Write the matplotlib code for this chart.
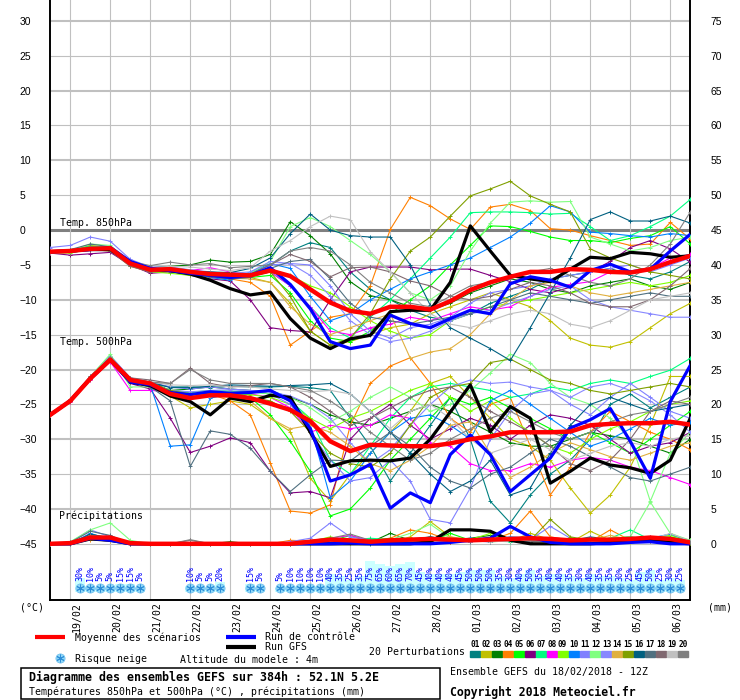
import matplotlib
matplotlib.use("Agg")
import matplotlib.pyplot as plt
from matplotlib.patches import Rectangle

# time axis: 18/02 12Z + 0..384h, members every 12h
hours = list(range(0, 385, 12))

dates = ["19/02", "20/02", "21/02", "22/02", "23/02", "24/02", "25/02", "26/02",
         "27/02", "28/02", "01/03", "02/03", "03/03", "04/03", "05/03", "06/03"]

pert_colors = ["#008080", "#c0c000", "#008000", "#ff8000", "#00ff00", "#800080", "#00ff80",
               "#ff00ff", "#80ff00", "#0080ff", "#8080ff", "#80ff80", "#8888ff", "#e0b040",
               "#80a000", "#006080", "#507080", "#806870", "#c0c0c0", "#808080"]

# 850 hPa (degC)
t850_mean = [-3.1, -3.0, -2.7, -2.6, -4.8, -5.7, -5.6, -6.0, -6.3, -6.4, -6.5, -5.8, -6.6,
             -8.5, -10.4, -11.6, -12.0, -11.0, -11.0, -11.4, -10.2, -8.6, -7.5, -6.7, -6.0,
             -6.0, -5.6, -5.7, -6.0, -6.1, -5.6, -4.6, -3.7]
t850_ctrl = [-3.1, -3.0, -2.8, -2.5, -4.5, -5.5, -5.8, -6.2, -6.5, -6.8, -6.5, -5.4, -7.8,
             -11.3, -16.0, -17.0, -16.5, -12.2, -13.4, -14.0, -12.7, -11.5, -12.0, -7.7, -6.7,
             -7.2, -8.2, -5.8, -4.9, -6.0, -5.6, -3.0, -0.6]
t850_gfs = [-3.1, -3.0, -2.8, -2.8, -4.6, -5.6, -5.8, -6.3, -7.2, -8.4, -9.3, -8.9, -12.7,
            -15.5, -17.0, -15.6, -15.1, -11.7, -11.5, -11.5, -7.5, 0.6, -3.0, -6.5, -7.0,
            -7.4, -5.6, -3.9, -4.1, -3.2, -3.4, -3.9, -3.7]
t850_pert = [
    [-3.2, -3.1, -2.5, -2.9, -5.0, -5.9, -5.4, -6.2, -6.5, -6.8, -6.2, -5.0, -3.0, -1.8, -2.5, -6.0, -8.5, -10.0, -11.5, -12.5, -13.0, -12.0, -10.5, -9.5, -8.5, -7.0, -6.5, -6.0, -5.5, -6.5, -7.0, -6.0, -4.5],
    [-3.0, -2.9, -2.2, -2.5, -4.6, -5.5, -5.5, -5.8, -6.2, -6.5, -6.8, -7.5, -10.5, -14.5, -16.5, -16.0, -15.0, -14.0, -13.5, -12.0, -11.0, -10.0, -9.0, -10.0, -11.0, -13.0, -15.5, -16.5, -16.8, -16.0, -14.0, -12.0, -10.5],
    [-3.1, -2.8, -2.4, -2.6, -4.5, -5.4, -5.2, -5.0, -4.3, -4.6, -4.5, -3.5, 1.2, -0.8, -3.4, -7.4, -9.4, -10.0, -11.0, -11.5, -10.5, -9.0, -8.0, -7.0, -7.5, -8.5, -9.0, -8.0, -7.5, -7.0, -8.0, -8.5, -7.5],
    [-3.3, -3.2, -2.8, -3.0, -5.2, -6.0, -5.8, -6.3, -6.8, -7.0, -7.5, -9.5, -16.5, -14.5, -12.5, -12.0, -8.0, 0.1, 4.7, 3.5, 1.6, 0.1, 3.3, 3.7, 2.8, 0.2, 0.0, -0.8, -1.5, -2.2, -2.0, 1.1, -1.3],
    [-3.1, -3.0, -2.6, -2.4, -4.4, -5.5, -5.7, -6.0, -6.4, -6.6, -6.8, -6.5, -9.0, -13.0, -15.5, -16.0, -14.5, -12.0, -10.0, -8.0, -5.0, -2.2, 0.6, 0.5, -0.2, -1.0, -1.5, -1.5, -1.8, -1.2, -0.8, 0.5, -2.0],
    [-3.3, -3.6, -3.4, -3.2, -5.0, -6.2, -6.0, -6.5, -7.0, -7.3, -10.0, -14.0, -14.4, -14.6, -10.0, -6.0, -5.3, -5.3, -5.3, -5.7, -5.6, -5.6, -6.5, -7.4, -8.5, -9.0, -8.2, -6.0, -4.5, -2.5, -1.5, -2.7, -4.6],
    [-3.0, -2.9, -2.3, -2.5, -4.7, -5.6, -5.5, -5.9, -6.3, -6.6, -6.7, -6.0, -8.0, -11.0, -14.0, -15.5, -12.5, -10.0, -7.0, -4.0, -1.0, 2.5, 2.6, 2.6, 2.5, 2.3, 2.4, 0.5, -1.5, -0.8, 0.5, 2.0, 4.4],
    [-3.3, -3.1, -2.7, -2.9, -5.0, -5.8, -5.6, -5.8, -5.4, -6.0, -6.5, -6.0, -8.0, -11.0, -14.5, -15.0, -14.0, -13.5, -12.5, -13.0, -12.0, -11.0, -11.5, -11.0, -9.5, -8.2, -7.8, -7.4, -6.0, -6.0, -5.5, -4.0, -3.5],
    [-3.2, -3.3, -2.7, -2.8, -5.1, -6.0, -6.2, -6.5, -6.7, -6.8, -6.4, -5.6, -6.5, -8.0, -9.0, -11.0, -13.0, -14.5, -15.5, -15.0, -13.0, -12.0, -11.0, -10.5, -10.0, -9.5, -9.0, -8.5, -8.0, -7.5, -8.0, -7.5, -6.5],
    [-3.2, -3.0, -2.6, -2.7, -5.0, -5.9, -5.8, -6.1, -6.8, -7.2, -6.0, -4.8, -5.5, -9.5, -13.0, -12.0, -10.0, -8.5, -7.0, -6.0, -5.0, -4.0, -2.5, -1.0, 1.0, 3.5, 2.6, -0.3, -0.5, -0.8, -1.0, -0.5, -0.8],
    [-2.5, -2.2, -1.0, -1.6, -4.2, -5.3, -5.3, -5.7, -6.0, -6.3, -6.3, -5.0, -4.8, -5.0, -8.0, -12.0, -14.5, -15.5, -14.0, -13.5, -12.5, -10.5, -9.0, -8.5, -8.0, -7.0, -6.5, -6.0, -5.5, -5.0, -6.0, -5.0, -4.0],
    [-3.0, -3.0, -2.0, -2.2, -4.6, -5.5, -5.4, -5.8, -6.2, -6.3, -6.2, -4.5, 0.5, 1.8, 0.5, -1.5, -3.5, -6.0, -9.0, -10.0, -8.0, -3.0, 1.0, 4.0, 4.2, 4.0, 4.1, -1.0, -2.0, -3.0, -2.5, -1.5, -1.0],
    [-3.1, -3.0, -2.5, -2.6, -4.8, -5.6, -5.7, -6.1, -6.4, -6.2, -6.0, -4.5, -4.8, -6.5, -9.5, -13.0, -15.0, -16.0, -15.5, -14.5, -13.0, -12.0, -11.5, -10.5, -9.5, -8.5, -8.0, -10.0, -11.0, -11.5, -12.0, -12.5, -12.5],
    [-3.2, -3.1, -2.6, -2.6, -4.9, -5.8, -5.7, -6.2, -6.6, -6.9, -7.0, -7.5, -11.0, -13.5, -15.0, -14.0, -13.0, -12.0, -18.4, -17.5, -17.0, -15.0, -12.0, -10.0, -8.0, -7.5, -8.0, -9.0, -9.5, -9.0, -8.5, -8.0, -7.5],
    [-3.1, -2.9, -2.4, -2.6, -4.6, -5.6, -5.6, -6.0, -6.4, -6.7, -6.6, -6.0, -9.5, -14.5, -16.5, -15.5, -12.0, -7.0, -3.0, -1.0, 2.0, 4.9, 5.9, 7.0, 4.9, 3.7, 2.6, -2.7, -4.0, -5.0, -6.0, -6.5, -7.0],
    [-3.2, -3.1, -2.5, -2.8, -4.9, -5.7, -5.5, -5.9, -6.0, -6.1, -5.5, -4.0, -0.5, 2.3, 0.0, -0.8, -1.0, -1.0, -5.0, -10.8, -14.0, -15.5, -17.0, -18.7, -14.0, -9.0, -4.0, 1.5, 2.6, 1.3, 1.3, 2.0, 1.0],
    [-3.0, -2.8, -2.0, -2.4, -4.6, -5.6, -5.8, -6.2, -6.7, -7.0, -6.8, -5.5, -4.5, -4.2, -7.0, -10.5, -12.5, -13.0, -13.5, -13.0, -12.5, -12.0, -11.0, -10.0, -9.0, -9.5, -10.0, -10.5, -10.0, -9.5, -9.0, -9.5, -9.5],
    [-3.3, -3.2, -2.8, -3.0, -5.2, -6.0, -5.9, -6.3, -6.6, -6.7, -6.3, -5.0, -3.5, -4.5, -6.7, -5.4, -5.3, -6.0, -7.3, -8.0, -9.5, -10.0, -9.5, -8.5, -7.5, -8.0, -9.0, -10.5, -11.0, -11.0, -10.0, -8.0, -5.5],
    [-3.1, -3.0, -2.6, -2.7, -4.7, -5.5, -5.2, -5.3, -5.6, -5.8, -5.4, -3.0, -1.5, 0.5, 2.0, 1.5, -3.1, -6.0, -9.0, -12.0, -13.5, -14.0, -13.0, -12.0, -11.5, -12.0, -13.5, -14.0, -13.0, -11.5, -10.0, -9.5, -9.0],
    [-3.0, -2.9, -2.4, -2.6, -4.5, -5.1, -4.6, -5.0, -4.8, -5.4, -5.2, -5.0, -3.0, -2.5, -3.0, -5.0, -7.5, -9.0, -10.5, -11.0, -9.5, -8.0, -7.5, -7.0, -6.0, -5.5, -6.5, -7.5, -8.0, -7.0, -5.0, -2.0, 2.6],
]

# 500 hPa (degC)
t500_mean = [-26.5, -24.5, -21.3, -18.6, -21.5, -22.0, -23.5, -24.1, -23.7, -23.7, -24.1,
             -24.9, -25.8, -27.4, -30.3, -31.7, -30.8, -30.9, -31.0, -31.0, -30.6, -30.0,
             -29.6, -29.0, -29.0, -29.0, -28.9, -28.0, -27.8, -27.7, -27.7, -27.5, -27.9]
t500_ctrl = [-26.5, -24.5, -21.3, -18.6, -21.8, -22.2, -23.3, -23.6, -23.2, -23.4, -23.3,
             -23.0, -24.5, -28.5, -36.0, -35.1, -33.6, -39.9, -37.7, -39.1, -32.2, -29.4,
             -32.2, -37.5, -35.1, -32.7, -28.4, -27.2, -25.6, -30.3, -35.6, -24.6, -19.4]
t500_gfs = [-26.5, -24.5, -21.3, -18.6, -21.8, -22.3, -23.8, -24.6, -26.5, -24.1, -24.6,
            -23.7, -24.0, -29.0, -33.9, -33.1, -33.0, -33.1, -32.7, -30.0, -26.1, -22.2,
            -28.9, -25.3, -27.0, -36.3, -34.6, -32.7, -33.7, -34.1, -34.9, -33.0, -27.0]
t500_pert = [
    [-26.5, -24.3, -21.0, -18.3, -21.5, -22.0, -22.5, -22.5, -22.6, -22.4, -22.5, -22.5, -22.4, -22.6, -23.0, -27.0, -31.0, -36.0, -32.0, -28.0, -24.0, -30.0, -38.9, -42.0, -38.0, -35.0, -33.0, -30.0, -25.0, -23.5, -25.5, -24.0, -22.5],
    [-26.5, -24.5, -21.5, -18.8, -21.8, -22.5, -23.8, -25.5, -25.0, -24.5, -25.0, -27.0, -28.9, -35.6, -38.9, -35.0, -32.0, -29.0, -26.0, -22.0, -21.0, -24.0, -27.0, -30.0, -31.0, -33.0, -37.0, -40.6, -38.0, -34.0, -28.0, -21.0, -21.0],
    [-26.5, -24.4, -21.2, -18.5, -21.5, -21.8, -23.0, -22.8, -22.5, -22.8, -23.0, -23.5, -24.0, -25.0, -26.5, -27.5, -28.0, -27.0, -26.0, -25.0, -26.0, -27.5, -29.0, -30.5, -31.0, -31.0, -30.0, -29.0, -29.5, -30.0, -31.0, -32.0, -30.0],
    [-26.5, -24.6, -21.3, -18.5, -21.8, -22.3, -23.5, -24.0, -23.5, -24.5, -26.5, -33.4, -40.3, -40.6, -39.4, -28.0, -22.0, -19.5, -18.3, -22.0, -27.0, -29.0, -25.0, -24.0, -31.0, -38.0, -34.0, -29.0, -26.0, -27.5, -29.0, -30.0, -31.5],
    [-26.5, -24.5, -21.4, -18.7, -21.6, -22.0, -23.0, -23.3, -23.0, -23.2, -24.0, -26.5, -30.3, -34.6, -41.0, -40.0, -37.0, -33.0, -30.0, -27.0, -24.0, -25.0, -24.0, -25.5, -27.0, -28.5, -30.0, -29.0, -30.5, -32.0, -30.0, -28.0, -26.0],
    [-26.5, -24.5, -21.3, -18.7, -22.0, -22.8, -27.0, -31.9, -31.0, -29.8, -30.5, -34.6, -37.7, -37.5, -38.4, -30.0, -27.0, -25.0, -28.0, -30.0, -28.5, -27.0, -28.0, -30.0, -28.0, -26.5, -27.0, -28.0, -30.0, -32.0, -31.0, -30.5, -29.0],
    [-26.5, -24.5, -21.2, -18.5, -21.5, -22.0, -23.2, -23.5, -23.0, -23.1, -23.2, -23.5, -24.5, -27.0, -33.0, -35.0, -31.0, -27.0, -24.0, -22.5, -22.0, -22.5, -23.0, -24.0, -23.5, -22.5, -23.0, -22.0, -21.5, -22.0, -21.0, -20.1, -18.4],
    [-26.5, -24.6, -21.5, -18.9, -23.0, -23.0, -23.2, -23.6, -23.5, -23.3, -23.5, -24.0, -25.5, -29.0, -28.0, -28.5, -28.0, -26.5, -27.0, -30.5, -31.0, -33.5, -34.5, -34.5, -33.5, -34.0, -33.0, -32.6, -33.0, -34.0, -34.5, -35.5, -36.5],
    [-26.5, -24.5, -21.3, -18.6, -21.6, -22.0, -23.0, -23.5, -23.4, -23.5, -23.6, -24.0, -25.0, -27.0, -28.5, -27.0, -26.0, -24.5, -23.0, -22.0, -24.0, -26.0, -24.5, -27.0, -29.0, -31.0, -32.0, -30.0, -28.5, -27.5, -26.0, -25.0, -24.5],
    [-26.5, -24.5, -21.2, -18.5, -21.6, -22.2, -31.0, -30.8, -24.1, -23.5, -23.2, -23.0, -24.0, -28.0, -38.4, -36.0, -32.0, -29.0, -27.0, -26.5, -28.0, -30.0, -24.5, -23.0, -25.0, -27.0, -29.0, -31.0, -30.0, -28.5, -27.0, -28.0, -27.5],
    [-26.5, -24.3, -21.0, -18.0, -21.2, -21.8, -22.5, -22.8, -22.5, -22.8, -23.0, -23.5, -25.0, -29.0, -33.0, -36.0, -35.5, -33.0, -36.0, -41.5, -42.0, -37.0, -30.0, -26.0, -23.5, -23.0, -25.0, -26.5, -24.0, -22.0, -24.0, -26.0, -27.0],
    [-26.5, -24.4, -21.0, -17.8, -22.5, -22.5, -23.0, -23.5, -23.0, -23.2, -23.2, -23.5, -24.0, -25.5, -27.5, -26.0, -24.0, -22.5, -24.0, -26.0, -25.0, -23.0, -20.5, -17.8, -19.0, -22.0, -24.0, -25.0, -27.0, -30.0, -38.9, -32.0, -29.0],
    [-26.5, -24.5, -21.3, -18.6, -21.6, -22.0, -23.0, -23.2, -23.0, -22.9, -23.0, -23.2, -23.8, -25.0, -27.0, -30.5, -33.5, -31.5, -28.0, -25.0, -22.5, -21.5, -22.0, -21.8, -22.5, -23.0, -24.0, -22.5, -22.0, -23.0, -24.5, -26.5, -29.0],
    [-26.5, -24.5, -21.4, -18.6, -21.8, -22.4, -23.4, -24.0, -23.8, -24.0, -24.5, -27.0, -28.5, -28.0, -29.0, -31.0, -33.5, -34.5, -33.0, -31.0, -28.0, -27.5, -32.0, -35.5, -34.0, -32.0, -30.5, -31.5, -32.5, -33.0, -32.0, -31.0, -30.5],
    [-26.5, -24.5, -21.3, -18.6, -21.6, -22.0, -23.0, -23.5, -23.5, -23.8, -24.0, -24.5, -26.0, -29.0, -32.0, -33.5, -34.0, -32.0, -28.0, -24.0, -22.5, -22.0, -19.0, -18.5, -20.0, -21.5, -22.0, -23.0, -23.5, -23.0, -22.5, -22.0, -22.5],
    [-26.5, -24.4, -21.1, -18.4, -21.4, -21.8, -22.6, -22.6, -22.4, -22.2, -22.3, -22.4, -22.3, -22.2, -22.0, -23.5, -26.0, -29.0, -32.0, -35.0, -37.5, -36.0, -33.0, -38.0, -37.0, -32.0, -28.0, -25.0, -24.0, -25.0, -26.0, -25.5, -25.0],
    [-26.5, -24.5, -21.3, -18.6, -21.8, -22.5, -24.5, -33.9, -28.8, -29.3, -31.3, -34.6, -37.5, -35.1, -33.0, -33.1, -31.0, -29.0, -31.0, -34.0, -36.0, -37.0, -35.0, -34.0, -32.0, -30.0, -31.0, -32.5, -34.0, -35.5, -36.0, -35.0, -34.0],
    [-26.5, -24.4, -21.1, -18.3, -21.2, -21.5, -22.0, -19.8, -22.0, -22.5, -22.3, -22.0, -22.5, -24.0, -26.0, -28.0, -27.0, -25.5, -24.0, -23.0, -22.5, -24.0, -26.0, -27.5, -29.0, -31.0, -33.5, -34.5, -33.0, -30.0, -26.0, -24.5, -25.0],
    [-26.5, -24.4, -21.0, -18.4, -21.3, -21.8, -22.2, -22.3, -22.2, -22.5, -22.5, -22.8, -23.0, -23.2, -23.0, -23.5, -26.0, -28.5, -26.0, -25.0, -27.0, -30.0, -32.0, -31.0, -30.0, -31.5, -33.0, -32.0, -31.0, -30.5, -31.0, -30.0, -29.5],
    [-26.5, -24.3, -21.0, -18.2, -21.2, -21.8, -22.0, -20.0, -21.5, -22.0, -22.0, -22.0, -22.5, -23.0, -24.5, -26.5, -29.0, -31.0, -33.0, -32.0, -30.0, -28.5, -27.0, -26.0, -27.5, -29.0, -30.0, -29.0, -27.5, -26.5, -26.0, -25.0, -24.0],
]

# precipitation (mm), drawn on the right-hand scale (0 mm = -45 degC line)
rr_mean = [0, 0.1, 0.9, 0.9, 0.1, 0, 0, 0, 0, 0, 0, 0, 0, 0.3, 0.6, 0.5, 0.3, 0.5, 0.6, 0.7,
           0.6, 0.5, 0.6, 0.7, 0.8, 0.7, 0.5, 0.6, 0.6, 0.7, 0.9, 0.7, 0.2]
rr_ctrl = [0, 0, 0.8, 0.5, 0, 0, 0, 0, 0, 0, 0, 0, 0, 0, 0, 0.1, 0, 0, 0, 0, 0.2, 0.5, 0.8,
           2.5, 1.0, 0.2, 0, 0, 0, 0.2, 0.3, 0, 0]
rr_gfs = [0, 0, 0.7, 0.5, 0, 0, 0, 0, 0, 0, 0, 0, 0, 0, 0, 0, 0, 0, 0, 0.3, 2.0, 2.0, 1.8,
          0.5, 0, 0, 0, 0, 0.2, 0.3, 0.5, 0.2, 0]
rr_pert = [
    [0, 0, 1.2, 0.8, 0.1, 0, 0, 0, 0, 0, 0, 0, 0, 0.3, 0.5, 0.2, 0, 0.6, 0.3, 1.0, 0.5, 0.3, 0.8, 2.5, 1.0, 0.5, 0.4, 1.0, 0.6, 0.8, 0.5, 0.4, 0.1],
    [0, 0, 0.8, 0.6, 0, 0, 0, 0, 0, 0, 0, 0, 0, 0, 0.3, 0.1, 0.4, 0.2, 1.0, 3.2, 1.0, 0.3, 0.6, 0.4, 1.5, 0.6, 0.2, 1.8, 0.5, 0.3, 0.4, 0.6, 0.1],
    [0, 0, 1.0, 0.5, 0, 0, 0, 0, 0, 0.3, 0, 0, 0, 0.2, 0.6, 0.4, 0.2, 1.5, 0.5, 0.4, 0.6, 0.8, 1.2, 0.5, 0.3, 0.6, 0.5, 0.4, 0.8, 1.0, 0.6, 0.8, 0.2],
    [0, 0, 0.6, 0.4, 0, 0, 0, 0, 0, 0, 0, 0, 0.5, 0.4, 0.3, 0.2, 0.3, 0.8, 2.0, 1.5, 0.5, 0.8, 0.5, 1.5, 4.7, 1.0, 0.5, 0.3, 2.0, 0.5, 0.8, 0.6, 0.3],
    [0, 0.2, 1.2, 0.8, 0, 0, 0, 0, 0, 0, 0, 0, 0, 0.2, 0.4, 1.2, 0.3, 0.2, 0.5, 0.3, 1.5, 0.5, 0.3, 0.4, 0.6, 0.5, 0.8, 0.4, 0.3, 0.5, 0.7, 1.0, 0.4],
    [0, 0, 0.9, 0.6, 0, 0, 0, 0, 0, 0, 0, 0, 0, 0.3, 0.6, 0.5, 0.4, 0.3, 0.2, 0.5, 0.3, 0.4, 0.6, 0.5, 0.4, 0.3, 0.8, 0.6, 0.5, 0.4, 1.0, 0.7, 0.3],
    [0, 0, 1.1, 0.7, 0, 0, 0, 0, 0, 0, 0, 0, 0, 0.2, 0.3, 0.5, 0.8, 0.6, 0.4, 0.3, 0.5, 0.6, 0.4, 0.3, 0.5, 0.4, 0.6, 0.5, 0.8, 2.0, 0.6, 0.5, 0.5],
    [0, 0, 0.8, 0.5, 0, 0, 0, 0, 0, 0, 0, 0, 0.2, 0.4, 0.8, 1.2, 0.5, 0.3, 0.4, 0.5, 0.3, 0.4, 0.3, 0.6, 0.5, 0.4, 0.3, 0.8, 0.5, 0.7, 0.6, 0.4, 0.2],
    [0, 0, 1.3, 0.9, 0, 0, 0, 0, 0, 0, 0, 0, 0, 0.3, 1.0, 0.4, 0.3, 0.2, 0.3, 0.4, 0.8, 0.6, 1.5, 0.4, 0.3, 0.5, 0.4, 0.6, 0.4, 0.5, 0.8, 1.2, 0.5],
    [0, 0, 1.5, 0.6, 0, 0, 0, 0, 0, 0, 0, 0, 0, 0.2, 0.3, 0.4, 0.6, 0.5, 0.3, 0.4, 0.5, 0.8, 0.6, 1.0, 0.8, 0.5, 0.4, 0.3, 0.5, 0.6, 0.8, 1.4, 0.4],
    [0, 0.2, 2.0, 1.0, 0, 0, 0, 0, 0, 0, 0, 0, 0.3, 0.8, 3.0, 1.0, 0.5, 0.4, 0.3, 0.5, 0.4, 0.3, 0.5, 0.4, 0.6, 2.5, 0.8, 0.5, 0.4, 0.6, 0.5, 0.4, 0.3],
    [0, 0.3, 2.0, 3.0, 0.5, 0, 0, 0, 0, 0, 0, 0, 0, 0.2, 0.4, 0.3, 0.5, 0.6, 1.5, 2.8, 0.8, 0.5, 0.4, 0.6, 0.5, 0.8, 0.6, 0.5, 0.8, 1.0, 6.0, 1.5, 0.5],
    [0, 0, 1.0, 0.6, 0, 0, 0, 0, 0, 0, 0, 0, 0, 0.3, 0.5, 0.4, 0.3, 0.5, 0.4, 0.3, 0.6, 0.5, 0.4, 0.5, 0.4, 0.6, 0.5, 0.4, 0.3, 0.5, 0.6, 0.4, 0.3],
    [0, 0, 0.7, 0.5, 0, 0, 0, 0, 0, 0, 0, 0, 0, 0.2, 0.3, 0.5, 0.4, 0.6, 0.5, 0.8, 1.0, 0.6, 0.5, 0.4, 0.8, 0.5, 0.6, 0.5, 1.2, 0.6, 0.5, 0.4, 0.2],
    [0, 0, 0.9, 0.6, 0, 0, 0, 0, 0, 0, 0, 0, 0, 0.3, 0.4, 0.6, 0.5, 0.8, 0.5, 0.4, 0.3, 0.5, 0.8, 0.6, 0.5, 3.5, 1.0, 0.5, 0.4, 0.6, 0.5, 0.8, 0.3],
    [0, 0, 1.4, 0.8, 0, 0, 0, 0, 0, 0, 0, 0, 0, 0.2, 0.4, 0.3, 0.5, 0.4, 0.6, 1.0, 0.5, 0.4, 0.3, 0.5, 0.6, 0.4, 0.5, 0.6, 0.5, 0.8, 0.6, 0.5, 0.3],
    [0, 0.2, 1.8, 1.2, 0, 0, 0, 0, 0, 0, 0, 0, 0, 0.3, 0.5, 0.4, 0.3, 0.5, 0.4, 0.3, 0.5, 0.6, 0.5, 0.4, 0.3, 0.5, 0.6, 0.5, 0.4, 0.6, 0.8, 0.5, 0.3],
    [0, 0, 1.0, 0.7, 0, 0, 0, 0.5, 0, 0, 0, 0, 0, 0.2, 0.3, 0.4, 0.3, 0.6, 0.5, 0.4, 0.5, 0.4, 0.6, 0.5, 0.4, 0.3, 0.5, 0.4, 0.6, 0.5, 0.4, 0.8, 0.3],
    [0, 0, 0.8, 0.5, 0, 0, 0, 0, 0, 0, 0, 0, 0, 0.2, 0.3, 0.2, 0.3, 0.4, 0.5, 0.3, 0.4, 0.5, 0.3, 0.4, 0.5, 0.6, 0.4, 0.3, 0.5, 0.4, 0.6, 1.5, 0.4],
    [0, 0, 1.2, 0.8, 0, 0, 0, 0.6, 0, 0, 0, 0, 0, 0.5, 0.8, 1.4, 0.5, 0.4, 0.3, 0.5, 0.6, 0.4, 0.5, 0.8, 0.5, 0.4, 0.6, 0.5, 0.4, 0.6, 0.8, 0.6, 0.3],
]

# snow risk (%) every 6h, 0..384h
snow_pct = [0, 0, 0, 30, 10, 5, 5, 15, 15, 5, 0, 0, 0, 0, 10, 5, 5, 20, 0, 0, 15, 5, 0,
            5, 10, 10, 10, 10, 40, 35, 25, 35, 75, 65, 60, 65, 70, 45, 40, 40, 40, 45, 50,
            50, 50, 35, 30, 40, 50, 35, 40, 40, 35, 30, 40, 35, 35, 30, 25, 45, 50, 25, 30,
            25, 0]

MONO = "DejaVu Sans Mono"
RR0 = -45.0          # 0 mm sits on the -45 line
YMIN, YMAX = -53.06, 33.0


def draw_flake(ax, x, y, size=1.0):
    ax.scatter(x, y, s=44 * size, color="#90d8f8", edgecolors="#55b0e8", linewidths=0.4,
               zorder=6, clip_on=False)
    ax.scatter(x, y, s=26 * size, marker=(6, 2, 0), color="#2f8fd8", linewidths=0.7,
               zorder=7, clip_on=False)


def main():
    fig = plt.figure(figsize=(7.4, 7.0), dpi=100)
    ax = fig.add_axes([50.3 / 740, 100 / 700, 640 / 740, 600 / 700])
    ax.set_xlim(0, 384)
    ax.set_ylim(YMIN, YMAX)

    # grid
    for v in range(-45, 31, 5):
        if v == 0:
            ax.axhline(v, color="#808080", lw=2.2, zorder=1)
        elif v % 10 == 0:
            ax.axhline(v, color="#c0c0c0", lw=1.5, zorder=1)
        else:
            ax.axhline(v, color="#c0c0c0", lw=0.8, zorder=1)
    day_hours = [12 + 24 * d for d in range(len(dates))]
    for h in day_hours:
        ax.axvline(h, color="#c0c0c0", lw=0.8, zorder=1)

    # snow risk band
    snow_hours = [6 * i for i in range(len(snow_pct))]
    for h, p in zip(snow_hours, snow_pct):
        if p <= 0:
            continue
        ax.bar(h, p * 0.056 + 0.3, width=6, bottom=-51.9, color="#ccffff", zorder=2)
    for h, p in zip(snow_hours, snow_pct):
        if p <= 0:
            continue
        draw_flake(ax, h, -51.35)
        ax.text(h, -50.3, f"{p}%", rotation=90, ha="center", va="bottom", fontsize=6,
                family=MONO, color="#0000ff", zorder=8)

    # members
    for col, a, b, r in zip(pert_colors, t850_pert, t500_pert, rr_pert):
        kw = dict(color=col, lw=0.8, marker="+", ms=3, mew=0.7, zorder=3)
        ax.plot(hours, a, **kw)
        ax.plot(hours, b, **kw)
        ax.plot(hours, [RR0 + v for v in r], **kw)

    # GFS, control, mean
    for series, col, lw, z in [((t850_gfs, t500_gfs, rr_gfs), "black", 2.3, 4),
                               ((t850_ctrl, t500_ctrl, rr_ctrl), "#0000ff", 2.3, 5),
                               ((t850_mean, t500_mean, rr_mean), "#ff0000", 3.2, 6)]:
        a, b, r = series
        ax.plot(hours, a, color=col, lw=lw, zorder=z)
        ax.plot(hours, b, color=col, lw=lw, zorder=z)
        ax.plot(hours, [RR0 + v for v in r], color=col, lw=lw, zorder=z)

    ax.text(5.8, 0.25, "Temp. 850hPa", fontsize=7.1, family=MONO, va="bottom", zorder=9)
    ax.text(5.8, -16.8, "Temp. 500hPa", fontsize=7.1, family=MONO, va="bottom", zorder=9)
    ax.text(5.2, -41.8, "Précipitations", fontsize=7.1, family=MONO, va="bottom", zorder=9)

    # axes and ticks
    ax.set_xticks([])
    ax.set_yticks(list(range(-45, 31, 5)))
    ax.tick_params(axis="y", length=0, pad=22.3, labelsize=7.5)
    plt.setp(ax.get_yticklabels(), ha="left", family="Liberation Sans")
    ax.spines["top"].set_visible(False)
    for s in ("left", "right", "bottom"):
        ax.spines[s].set_linewidth(1.4)

    ax2 = ax.twinx()
    ax2.set_ylim(YMIN - RR0, YMAX - RR0)
    ax2.set_yticks(list(range(0, 76, 5)))
    ax2.tick_params(axis="y", length=0, pad=14.4, labelsize=7.5)
    plt.setp(ax2.get_yticklabels(), family="Liberation Sans")
    for s in ax2.spines.values():
        s.set_visible(False)

    xt = ax.get_xaxis_transform()
    for h, d in zip(day_hours, dates):
        ax.text(h + 4, -0.004, d, transform=xt, rotation=90, ha="center", va="top",
                fontsize=7.1, family=MONO)

    # legend and captions, drawn in pixel coordinates
    ov = fig.add_axes([0, 0, 1, 1])
    ov.set_xlim(0, 740)
    ov.set_ylim(700, 0)
    ov.axis("off")
    ov.patch.set_alpha(0)

    txt = dict(family=MONO, fontsize=7.1, va="center")
    ov.text(20, 607, "(°C)", **txt)
    ov.text(708, 607, "(mm)", **txt)

    ov.plot([35, 65], [637, 637], color="#ff0000", lw=3.0, solid_capstyle="butt")
    ov.text(75, 637.5, "Moyenne des scénarios", **txt)
    ov.plot([226, 256], [637, 637], color="#0000ff", lw=3.0, solid_capstyle="butt")
    ov.text(265, 637.5, "Run de contrôle", **txt)
    ov.plot([226, 256], [647, 647], color="black", lw=3.0, solid_capstyle="butt")
    ov.text(265, 647.5, "Run GFS", **txt)
    draw_flake(ov, 60, 658)
    ov.text(75, 659.5, "Risque neige", **txt)
    ov.text(180, 660, "Altitude du modele : 4m", **txt)

    ov.text(369, 652, "20 Perturbations", **txt)
    for j, col in enumerate(pert_colors):
        x0 = 470 + j * 10.95
        ov.add_patch(Rectangle((x0, 650.5), 10, 6, color=col))
        ov.text(x0 + 5, 644.5, f"{j + 1:02d}", ha="center", va="center", fontsize=5.6,
                family=MONO, fontweight="bold")

    ov.add_patch(Rectangle((20.5, 668), 419.5, 31, fill=False, lw=1.1, ec="black"))
    ov.text(29, 677.5, "Diagramme des ensembles GEFS sur 384h : 52.1N 5.2E",
            family=MONO, fontsize=8.4, fontweight="bold", va="center")
    ov.text(29, 692, "Températures 850hPa et 500hPa (°C) , précipitations (mm)", **txt)
    ov.text(450, 672.5, "Ensemble GEFS du 18/02/2018 - 12Z", **txt)
    ov.text(450, 692, "Copyright 2018 Meteociel.fr", family=MONO, fontsize=8.3,
            fontweight="bold", va="center")

    fig.savefig("out.png", dpi=100)
    plt.close(fig)


if __name__ == "__main__":
    main()
